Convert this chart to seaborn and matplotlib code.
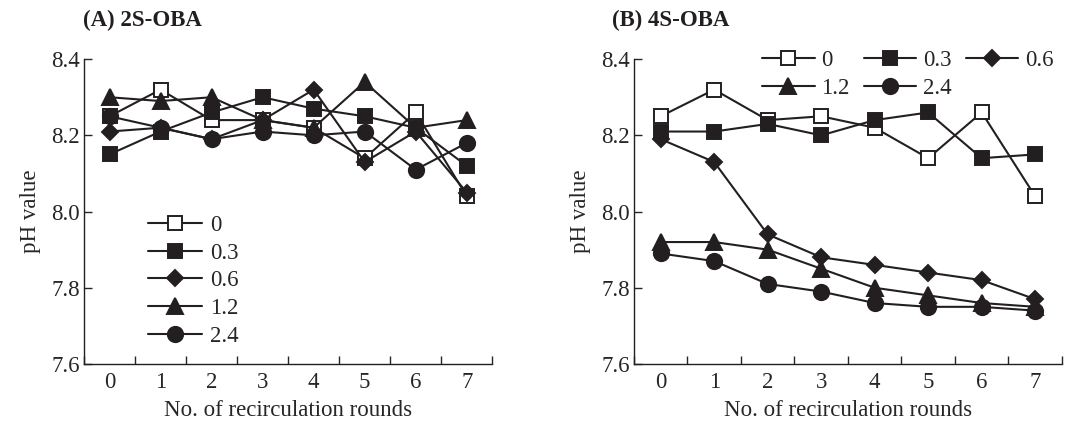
import numpy as np
import pandas as pd
import matplotlib
matplotlib.use("Agg")
import matplotlib.pyplot as plt
import seaborn as sns

# recirculation rounds and OBA doses
rounds = [0, 1, 2, 3, 4, 5, 6, 7]
doses = ["0", "0.3", "0.6", "1.2", "2.4"]

# (A) 2S-OBA pH values
ph_2s_0 = [8.25, 8.32, 8.24, 8.24, 8.22, 8.14, 8.26, 8.04]
ph_2s_03 = [8.15, 8.21, 8.26, 8.30, 8.27, 8.25, 8.22, 8.12]
ph_2s_06 = [8.21, 8.22, 8.19, 8.24, 8.32, 8.13, 8.21, 8.05]
ph_2s_12 = [8.30, 8.29, 8.30, 8.24, 8.22, 8.34, 8.22, 8.24]
ph_2s_24 = [8.25, 8.22, 8.19, 8.21, 8.20, 8.21, 8.11, 8.18]

# (B) 4S-OBA pH values
ph_4s_0 = [8.25, 8.32, 8.24, 8.25, 8.22, 8.14, 8.26, 8.04]
ph_4s_03 = [8.21, 8.21, 8.23, 8.20, 8.24, 8.26, 8.14, 8.15]
ph_4s_06 = [8.19, 8.13, 7.94, 7.88, 7.86, 7.84, 7.82, 7.77]
ph_4s_12 = [7.92, 7.92, 7.90, 7.85, 7.80, 7.78, 7.76, 7.75]
ph_4s_24 = [7.89, 7.87, 7.81, 7.79, 7.76, 7.75, 7.75, 7.74]

yticks = [7.6, 7.8, 8.0, 8.2, 8.4]

sns.set_style("ticks")
plt.rcParams["font.family"] = ["Liberation Serif", "DejaVu Serif"]

INK = "#231f20"
FS = 16.5
styles = {
    "0": dict(marker="s", markerfacecolor="white", markersize=10.5),
    "0.3": dict(marker="s", markerfacecolor=INK, markersize=10.5),
    "0.6": dict(marker="D", markerfacecolor=INK, markersize=8),
    "1.2": dict(marker="^", markerfacecolor=INK, markersize=11),
    "2.4": dict(marker="o", markerfacecolor=INK, markersize=11),
}


def draw_panel(ax, series):
    for dose, vals in zip(doses, series):
        df = pd.DataFrame({"round": rounds, "pH": vals})
        sns.lineplot(data=df, x="round", y="pH", ax=ax, color=INK, lw=1.5,
                     markeredgecolor=INK, markeredgewidth=1.4, label=dose,
                     **styles[dose])
    ax.set_xlim(-0.5, 7.5)
    ax.set_ylim(7.6, 8.4)
    ax.set_yticks(yticks)
    ax.set_yticklabels([f"{v:.1f}" for v in yticks])
    ax.set_xticks(rounds)
    ax.set_xticks(np.arange(-0.5, 8.0, 1.0), minor=True)
    ax.tick_params(axis="x", which="major", length=0, pad=6, labelsize=FS)
    ax.tick_params(axis="x", which="minor", direction="in", length=6, width=1)
    ax.tick_params(axis="y", direction="in", length=6, width=1, labelsize=FS, pad=3)
    ax.set_xlabel("No. of recirculation rounds", fontsize=FS, labelpad=5)
    ax.set_ylabel("pH value", fontsize=FS, labelpad=7)
    for s in ["top", "right"]:
        ax.spines[s].set_visible(False)
    for s in ["left", "bottom"]:
        ax.spines[s].set_color(INK)
        ax.spines[s].set_linewidth(1)
    ax.get_legend().remove()


fig = plt.figure(figsize=(10.66, 4.30), dpi=100)
ax_a = fig.add_axes([0.0788, 0.1535, 0.383, 0.709])
ax_b = fig.add_axes([0.5947, 0.1535, 0.4015, 0.709])

draw_panel(ax_a, [ph_2s_0, ph_2s_03, ph_2s_06, ph_2s_12, ph_2s_24])
draw_panel(ax_b, [ph_4s_0, ph_4s_03, ph_4s_06, ph_4s_12, ph_4s_24])

handles, labels = ax_a.get_legend_handles_labels()
ax_a.legend(handles, labels, loc="upper left", bbox_to_anchor=(0.157, 0.49),
            frameon=False, fontsize=FS, handlelength=2.35, handletextpad=0.35,
            labelspacing=0.3, borderpad=0, borderaxespad=0)

handles, labels = ax_b.get_legend_handles_labels()
order = [0, 3, 1, 4, 2]
ax_b.legend([handles[i] for i in order], [labels[i] for i in order],
            loc="upper left", bbox_to_anchor=(0.299, 1.03), ncol=3,
            frameon=False, fontsize=FS, handlelength=2.3, handletextpad=0.3,
            labelspacing=0.3, columnspacing=0.6, borderpad=0, borderaxespad=0)

fig.text(83 / 1066, 1 - 20 / 430, "(A) 2S-OBA", fontsize=FS, fontweight="bold",
         va="center", ha="left", color=INK)
fig.text(612 / 1066, 1 - 20 / 430, "(B) 4S-OBA", fontsize=FS, fontweight="bold",
         va="center", ha="left", color=INK)

fig.savefig("out.png", dpi=100)
plt.close(fig)
